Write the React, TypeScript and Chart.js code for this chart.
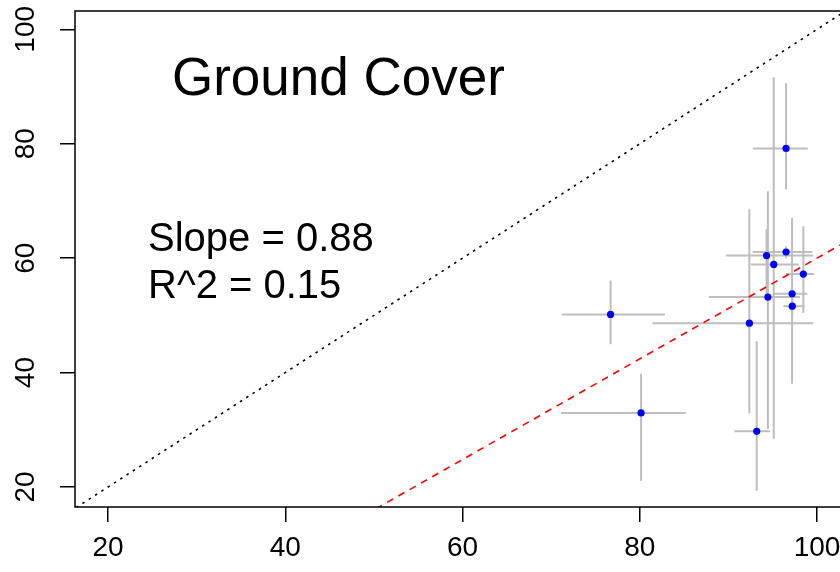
import React, { useEffect, useRef } from "react";
import { Chart, registerables } from "chart.js";

Chart.register(...registerables);

// ---- data ----
const siteX = [76.7, 80.14, 92.36, 93.19, 94.45, 94.3, 95.11, 96.5, 96.5, 98.45, 97.18, 97.2];
const siteY = [50.16, 32.95, 48.64, 29.73, 53.19, 60.44, 58.91, 61.07, 79.17, 57.22, 53.78, 51.61];
const xLow = [71.22, 71.11, 81.42, 90.67, 87.81, 89.7, 92.52, 92.74, 92.74, 96.5, 95.15, 96.2];
const xHigh = [82.85, 85.18, 99.58, 94.7, 98.08, 99.58, 97.93, 99.47, 98.95, 99.66, 98.9, 98.61];
const yLow = [44.93, 21.1, 32.88, 19.35, 30.15, 53.3, 28.4, 59.97, 71.99, 50.39, 38.03, 50.0];
const yHigh = [56.11, 39.78, 68.54, 45.49, 71.69, 65.04, 91.6, 62.07, 90.55, 65.57, 67.02, 53.0];

const fitIntercept = -28.0;
const fitSlope = 0.88;
const oneToOne = [10, 110];
const fitXs = [40, 110];

const xTicks = [20, 40, 60, 80, 100];
const yTicks = [20, 40, 60, 80, 100];
const xRange = [16.27, 103.49];
const yRange = [16.5, 103.2];

const titleText = "Ground Cover";
const statLines = ["Slope = 0.88", "R^2 = 0.15"];

const FONT = "'Liberation Sans', Arial, Helvetica, sans-serif";

const errorBarPlugin = {
  id: "errorBars",
  beforeDatasetsDraw(chart: any) {
    const { ctx, chartArea } = chart;
    const xs = chart.scales.x;
    const ys = chart.scales.y;
    ctx.save();
    ctx.beginPath();
    ctx.rect(chartArea.left, chartArea.top, chartArea.right - chartArea.left, chartArea.bottom - chartArea.top);
    ctx.clip();
    ctx.strokeStyle = "#bebebe";
    ctx.lineWidth = 2;
    for (let i = 0; i < siteX.length; i++) {
      const px = xs.getPixelForValue(siteX[i]);
      const py = ys.getPixelForValue(siteY[i]);
      ctx.beginPath();
      ctx.moveTo(xs.getPixelForValue(xLow[i]), py);
      ctx.lineTo(xs.getPixelForValue(xHigh[i]), py);
      ctx.moveTo(px, ys.getPixelForValue(yLow[i]));
      ctx.lineTo(px, ys.getPixelForValue(yHigh[i]));
      ctx.stroke();
    }
    ctx.restore();
  },
};

const framePlugin = {
  id: "frameAndText",
  afterDraw(chart: any) {
    const { ctx, chartArea } = chart;
    ctx.save();
    ctx.strokeStyle = "#000";
    ctx.lineWidth = 1.5;
    ctx.strokeRect(chartArea.left, chartArea.top, chartArea.right - chartArea.left, chartArea.bottom - chartArea.top);
    ctx.fillStyle = "#000";
    ctx.textAlign = "left";
    ctx.textBaseline = "alphabetic";
    ctx.font = `53px ${FONT}`;
    ctx.fillText(titleText, chartArea.left + 97, chartArea.top + 84);
    ctx.font = `40px ${FONT}`;
    ctx.fillText(statLines[0], chartArea.left + 73, chartArea.top + 240);
    ctx.fillText(statLines[1], chartArea.left + 73, chartArea.top + 287);
    ctx.restore();
  },
};

export default function App() {
  const ref = useRef<HTMLCanvasElement>(null);
  useEffect(() => {
    if (!ref.current) return;
    const chart = new Chart(ref.current, {
      type: "scatter",
      data: {
        datasets: [
          {
            label: "sites",
            data: siteX.map((x, i) => ({ x, y: siteY[i] })),
            backgroundColor: "#0000ff",
            borderColor: "#0000ff",
            pointRadius: 3.6,
            borderWidth: 0,
          },
          {
            label: "fit",
            data: fitXs.map((x) => ({ x, y: fitIntercept + fitSlope * x })),
            showLine: true,
            borderColor: "#ff0000",
            borderWidth: 1.6,
            borderDash: [7, 6],
            pointRadius: 0,
          },
          {
            label: "1:1",
            data: oneToOne.map((v) => ({ x: v, y: v })),
            showLine: true,
            borderColor: "#000000",
            borderWidth: 1.6,
            borderDash: [2.5, 5],
            pointRadius: 0,
          },
        ],
      },
      options: {
        animation: false,
        responsive: false,
        devicePixelRatio: 1,
        layout: { padding: { top: 11, right: 12, left: 0, bottom: 0 } },
        plugins: { legend: { display: false }, tooltip: { enabled: false } },
        scales: {
          x: {
            type: "linear",
            min: xRange[0],
            max: xRange[1],
            afterBuildTicks: (s: any) => {
              s.ticks = xTicks.map((v) => ({ value: v }));
            },
            afterFit: (s: any) => {
              s.height = 65;
              s.paddingLeft = 0;
              s.paddingRight = 0;
            },
            border: { display: false },
            grid: { display: true, drawOnChartArea: false, drawTicks: true, tickLength: 15, color: "#000", lineWidth: 1.5 },
            ticks: {
              color: "#000",
              font: { family: FONT, size: 28 },
              padding: 9,
              maxRotation: 0,
              minRotation: 0,
              autoSkip: false,
              callback: (v: any) => String(v),
            },
          },
          y: {
            type: "linear",
            min: yRange[0],
            max: yRange[1],
            afterBuildTicks: (s: any) => {
              s.ticks = yTicks.map((v) => ({ value: v }));
            },
            afterFit: (s: any) => {
              s.width = 75;
              s.paddingTop = 0;
              s.paddingBottom = 0;
            },
            border: { display: false },
            grid: { display: true, drawOnChartArea: false, drawTicks: true, tickLength: 15, color: "#000", lineWidth: 1.5 },
            ticks: {
              color: "#000",
              font: { family: FONT, size: 28 },
              padding: 10,
              minRotation: 90,
              maxRotation: 90,
              crossAlign: "center",
              autoSkip: false,
              callback: (v: any) => String(v),
            },
          },
        },
      },
      plugins: [errorBarPlugin, framePlugin],
    });
    return () => chart.destroy();
  }, []);
  return (
    <div style={{ position: "fixed", left: 0, top: 0, width: 840, height: 572, overflow: "hidden", background: "#fff" }}>
      <canvas ref={ref} width={860} height={572} style={{ width: 860, height: 572, display: "block" }} />
    </div>
  );
}
